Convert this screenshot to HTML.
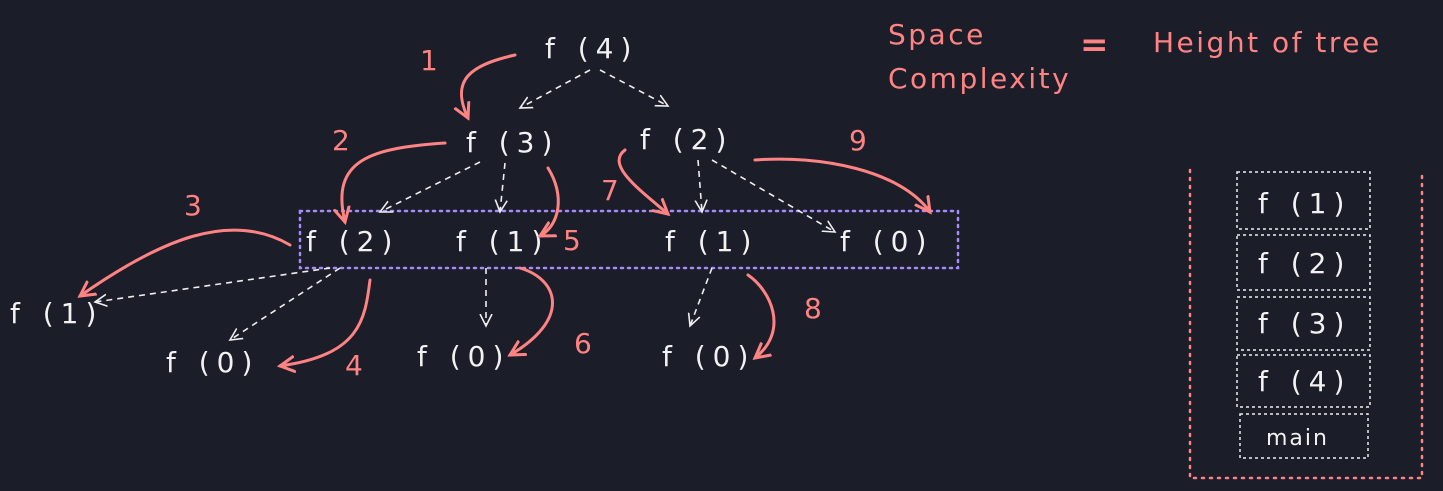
<!DOCTYPE html>
<html><head><meta charset="utf-8"><style>
html,body{margin:0;padding:0;background:#1b1d29;}
svg{display:block}
text{font-family:"DejaVu Sans","Liberation Sans",sans-serif;}
.w{fill:#f2f2f2;font-size:28px;letter-spacing:7px}
.p{fill:#ff8383;font-size:28px;letter-spacing:2.5px}
.wd{stroke:#eee;stroke-width:1.6;fill:none;stroke-dasharray:6 5}
.pa{stroke:#ff8383;stroke-width:3;fill:none;stroke-linecap:round}
</style></head><body>
<svg width="1443" height="491" viewBox="0 0 1443 491">
<defs>
<marker id="aw" markerWidth="14" markerHeight="14" refX="12" refY="7" orient="auto" markerUnits="userSpaceOnUse"><path d="M0,1 L12,7 L0,13" fill="none" stroke="#eee" stroke-width="1.6"/></marker>
<marker id="ap" markerWidth="18" markerHeight="18" refX="15" refY="9" orient="auto" markerUnits="userSpaceOnUse"><path d="M0,1 L15,9 L0,17" fill="none" stroke="#ff8383" stroke-width="3"/></marker>
</defs>
<rect width="1443" height="491" fill="#1b1d29"/>
<g>
<text class="w" x="545" y="58">f (4)</text>
<text class="w" x="466" y="152">f (3)</text>
<text class="w" x="640" y="149">f (2)</text>
<text class="w" x="306" y="251">f (2)</text>
<text class="w" x="456" y="251">f (1)</text>
<text class="w" x="665" y="251">f (1)</text>
<text class="w" x="840" y="251">f (0)</text>
<text class="w" x="10" y="323">f (1)</text>
<text class="w" x="166" y="372">f (0)</text>
<text class="w" x="417" y="366">f (0)</text>
<text class="w" x="662" y="366">f (0)</text>
</g>
<rect x="300" y="211" width="658" height="57" fill="none" stroke="#a78bfa" stroke-width="2.5" stroke-dasharray="2 5" stroke-linecap="round"/>
<g>
<path class="wd" marker-end="url(#aw)" d="M590,70 L520,108"/>
<path class="wd" marker-end="url(#aw)" d="M600,70 L668,106"/>
<path class="wd" marker-end="url(#aw)" d="M480,162 L380,212"/>
<path class="wd" marker-end="url(#aw)" d="M505,163 L500,212"/>
<path class="wd" marker-end="url(#aw)" d="M698,160 L702,212"/>
<path class="wd" marker-end="url(#aw)" d="M712,160 L835,232"/>
<path class="wd" marker-end="url(#aw)" d="M330,268 L95,302"/>
<path class="wd" marker-end="url(#aw)" d="M340,268 L230,340"/>
<path class="wd" marker-end="url(#aw)" d="M486,268 L486,326"/>
<path class="wd" marker-end="url(#aw)" d="M712,268 L690,326"/>
</g>
<g>
<path class="pa" marker-end="url(#ap)" d="M515,55 C470,65 450,80 468,118"/>
<path class="pa" marker-end="url(#ap)" d="M445,143 C370,148 330,160 345,222"/>
<path class="pa" marker-end="url(#ap)" d="M290,245 C230,210 160,240 80,296"/>
<path class="pa" marker-end="url(#ap)" d="M370,280 C365,320 360,355 280,366"/>
<path class="pa" marker-end="url(#ap)" d="M548,168 C565,195 560,225 540,236"/>
<path class="pa" marker-end="url(#ap)" d="M520,268 C560,280 570,320 510,355"/>
<path class="pa" marker-end="url(#ap)" d="M625,150 C605,165 640,190 668,214"/>
<path class="pa" marker-end="url(#ap)" d="M748,275 C770,290 790,330 755,358"/>
<path class="pa" marker-end="url(#ap)" d="M755,160 C820,155 900,170 930,212"/>
</g>
<g>
<text class="p" x="420" y="70">1</text>
<text class="p" x="332" y="150">2</text>
<text class="p" x="184" y="215">3</text>
<text class="p" x="345" y="375">4</text>
<text class="p" x="563" y="250">5</text>
<text class="p" x="574" y="353">6</text>
<text class="p" x="601" y="200">7</text>
<text class="p" x="804" y="318">8</text>
<text class="p" x="849" y="150">9</text>
</g>
<g>
<text class="p" x="888" y="44">Space</text>
<text class="p" x="888" y="88">Complexity</text>
<text class="p" x="1080" y="56" style="font-size:34px;font-weight:bold">=</text>
<text class="p" x="1153" y="52">Height of tree</text>
</g>
<g>
<path d="M1190,170 L1190,478 L1422,478 L1422,175" fill="none" stroke="#ff8383" stroke-width="2.5" stroke-dasharray="2 6" stroke-linecap="round"/>
<g fill="none" stroke="#eee" stroke-width="1.5" stroke-dasharray="3 3">
<rect x="1237" y="172" width="133" height="57"/>
<rect x="1237" y="235" width="133" height="55"/>
<rect x="1237" y="297" width="133" height="53"/>
<rect x="1237" y="355" width="133" height="52"/>
<rect x="1240" y="414" width="128" height="44"/>
</g>
<text class="w" x="1258" y="213">f (1)</text>
<text class="w" x="1258" y="273">f (2)</text>
<text class="w" x="1258" y="333">f (3)</text>
<text class="w" x="1258" y="391">f (4)</text>
<text class="w" x="1266" y="445" style="font-size:22px;letter-spacing:2px">main</text>
</g>
</svg>
</body></html>
